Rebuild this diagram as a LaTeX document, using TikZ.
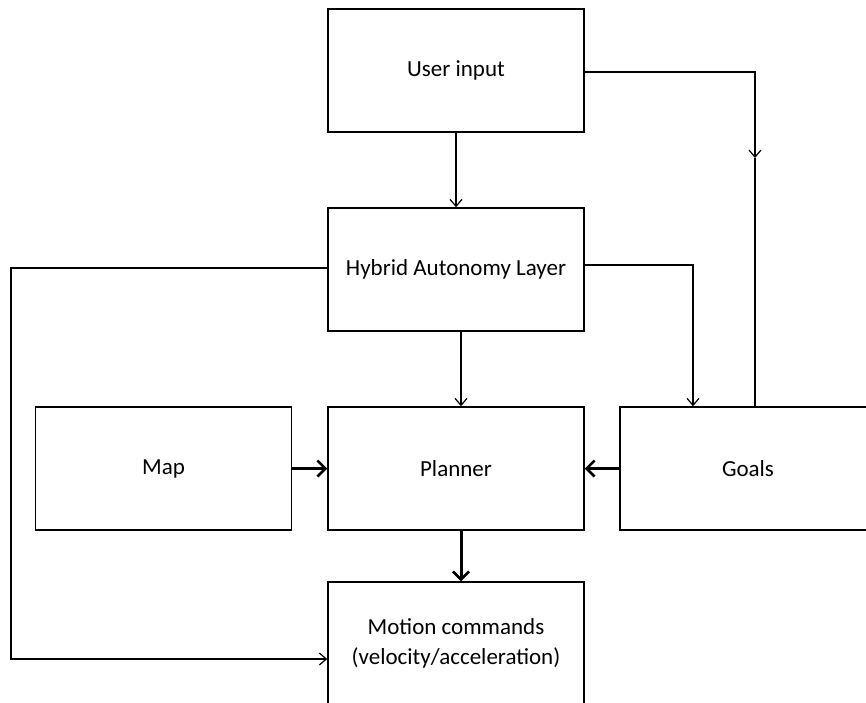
\documentclass[tikz,border=0pt]{standalone}
\usepackage{fontspec}
\setmainfont{Carlito}
\usetikzlibrary{arrows.meta}
\begin{document}
\begin{tikzpicture}[x=1pt,y=-1pt,
  box/.style={draw,line width=1.5pt,minimum width=256pt,minimum height=123pt,inner sep=0pt,
    font=\fontsize{23}{30}\selectfont,align=center},
  thinline/.style={line width=1.2pt},
  thinarr/.style={line width=1.2pt,-{Straight Barb[length=7pt,width=12pt,line width=1.2pt]}},
  thickarr/.style={line width=3pt,-{Straight Barb[length=8pt,width=16pt,line width=2.6pt]}}]
\useasboundingbox (0,0) rectangle (866,702);
\clip (0,0) rectangle (866,702);
\node[box] (ui) at (456,70.5) {User input};
\node[box] (hal) at (456,269.5) {Hybrid Autonomy Layer};
\node[box] (map) at (163.5,468.5) {Map};
\node[box] (pl) at (456,468.5) {Planner};
\node[box] (goals) at (748,468.5) {Goals};
\node[box] (mc) at (456,643.5) {Motion commands\\(velocity/acceleration)};
\coordinate (g1) at (693,265);
\coordinate (g2) at (755,158);
\coordinate (l1) at (11,268);
\coordinate (mcin) at ([yshift=-15.5pt]mc.west);
\draw[thinarr] (ui.south) -- (hal.north);
\draw[thinarr] (ui.east |- 0,72) -| (g2);
\draw[thinline] (g2) -- (g2 |- goals.north);
\draw[thinarr] (hal.east |- g1) -- (g1) -- (g1 |- goals.north);
\draw[thinarr] (hal.west |- l1) -- (l1) -- (l1 |- mcin) -- (mcin);
\draw[thinarr] ([xshift=5pt]hal.south) -- ([xshift=5pt]pl.north);
\draw[thickarr] (map.east) -- (pl.west);
\draw[thickarr] (goals.west) -- (pl.east);
\draw[thickarr] ([xshift=5pt]pl.south) -- ([xshift=5pt]mc.north);
\end{tikzpicture}
\end{document}
